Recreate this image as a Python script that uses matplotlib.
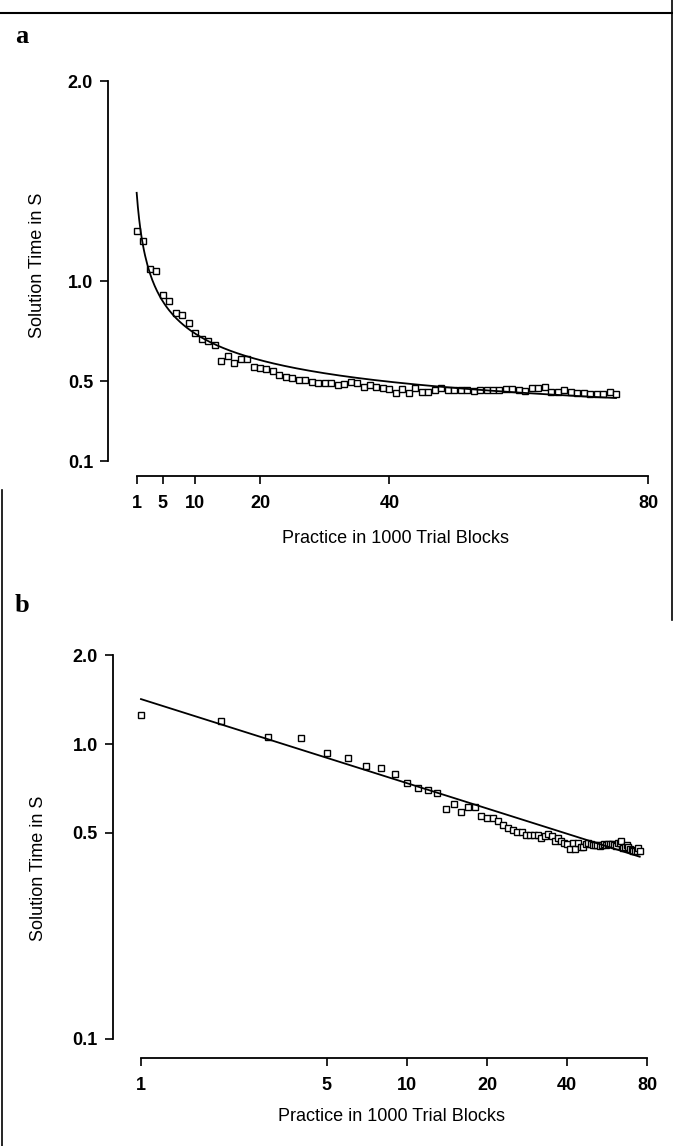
import numpy as np
import matplotlib
matplotlib.use("Agg")
import matplotlib.pyplot as plt
from matplotlib.lines import Line2D

W, H = 673, 1146

# mean solution time (s) for each block of 1000 trials
block = np.arange(1, 76)
solution_time = [
    1.25, 1.20, 1.06, 1.05, 0.93, 0.90, 0.84, 0.83, 0.79, 0.74,
    0.71, 0.70, 0.68, 0.60, 0.625, 0.59, 0.61, 0.61, 0.57, 0.563,
    0.56, 0.55, 0.53, 0.52, 0.513, 0.503, 0.505, 0.493, 0.49, 0.49,
    0.492, 0.48, 0.487, 0.497, 0.488, 0.47, 0.48, 0.47, 0.463, 0.458,
    0.44, 0.46, 0.44, 0.463, 0.447, 0.447, 0.457, 0.463, 0.457, 0.455,
    0.455, 0.453, 0.45, 0.453, 0.457, 0.453, 0.457, 0.458, 0.458, 0.455,
    0.45, 0.463, 0.463, 0.47, 0.443, 0.447, 0.453, 0.447, 0.44, 0.438,
    0.435, 0.435, 0.435, 0.443, 0.433,
]

# power function fit  T = a * N^-b
fit_a = 1.42
fit_b = 0.285

xticks = [1, 5, 10, 20, 40, 80]
yticks = [0.1, 0.5, 1.0, 2.0]
ytick_labels = ["0.1", "0.5", "1.0", "2.0"]

plt.rcParams["font.family"] = ["Liberation Sans", "DejaVu Sans"]


def px_box(left, top, right, bottom):
    return [left / W, 1 - bottom / H, (right - left) / W, (bottom - top) / H]


def style_axes(ax):
    for s in ["top", "right"]:
        ax.spines[s].set_visible(False)
    for s in ["left", "bottom"]:
        ax.spines[s].set_linewidth(1.3)
    ax.spines["left"].set_bounds(0.1, 2.0)
    ax.spines["bottom"].set_bounds(1, 80)
    ax.set_xticks(xticks)
    ax.set_xticklabels([str(t) for t in xticks], fontweight="bold")
    ax.set_yticks(yticks)
    ax.set_yticklabels(ytick_labels, fontweight="bold")
    ax.minorticks_off()
    ax.tick_params(axis="both", direction="out", length=5.8, width=1.2, labelsize=13)
    ax.tick_params(axis="x", pad=8)
    ax.tick_params(axis="y", pad=5)
    ax.set_xlabel("Practice in 1000 Trial Blocks", fontsize=13)
    ax.set_ylabel("Solution Time in S", fontsize=13)


fig = plt.figure(figsize=(W / 100, H / 100), dpi=100)

# panel a: linear axes
ax1 = fig.add_axes(px_box(108, 70, 660, 476))
ax1.plot(block, solution_time, linestyle="none", marker="s", ms=4.2,
         mfc="white", mec="black", mew=1.0)
xs = np.linspace(0.95, 75, 400)
ax1.plot(xs, fit_a * xs ** -fit_b, color="black", lw=1.3)
ax1.set_xlim(-3.48, 81.8)
ax1.set_ylim(0.025, 2.055)
style_axes(ax1)
ax1.xaxis.set_label_coords(0.52, -0.133)
ax1.yaxis.set_label_coords(-0.112, 0.52)

# panel b: log-log axes
ax2 = fig.add_axes(px_box(113, 645, 660, 1058))
ax2.set_xscale("log")
ax2.set_yscale("log")
ax2.plot(block, solution_time, linestyle="none", marker="s", ms=4.2,
         mfc="white", mec="black", mew=1.0)
xs = np.geomspace(1, 75, 200)
ax2.plot(xs, fit_a * xs ** -fit_b, color="black", lw=1.3)
ax2.set_xlim(0.785, 89.4)
ax2.set_ylim(0.0862, 2.166)
style_axes(ax2)
ax2.xaxis.set_label_coords(0.51, -0.121)
ax2.yaxis.set_label_coords(-0.121, 0.46)

# panel letters
fig.text(15 / W, 1 - 43 / H, "a", fontfamily="Liberation Serif",
         fontweight="bold", fontsize=19, va="baseline")
fig.text(15 / W, 1 - 612 / H, "b", fontfamily="Liberation Serif",
         fontweight="bold", fontsize=19, va="baseline")

# page frame lines from the scan
fig.add_artist(Line2D([0, 1], [1 - 12.7 / H] * 2, transform=fig.transFigure,
                      color="black", lw=1.5))
fig.add_artist(Line2D([671.5 / W] * 2, [1, 1 - 620 / H], transform=fig.transFigure,
                      color="black", lw=1.2))
fig.add_artist(Line2D([2 / W] * 2, [1 - 490 / H, 0], transform=fig.transFigure,
                      color="black", lw=1.2))

fig.savefig("out.png", dpi=100)
